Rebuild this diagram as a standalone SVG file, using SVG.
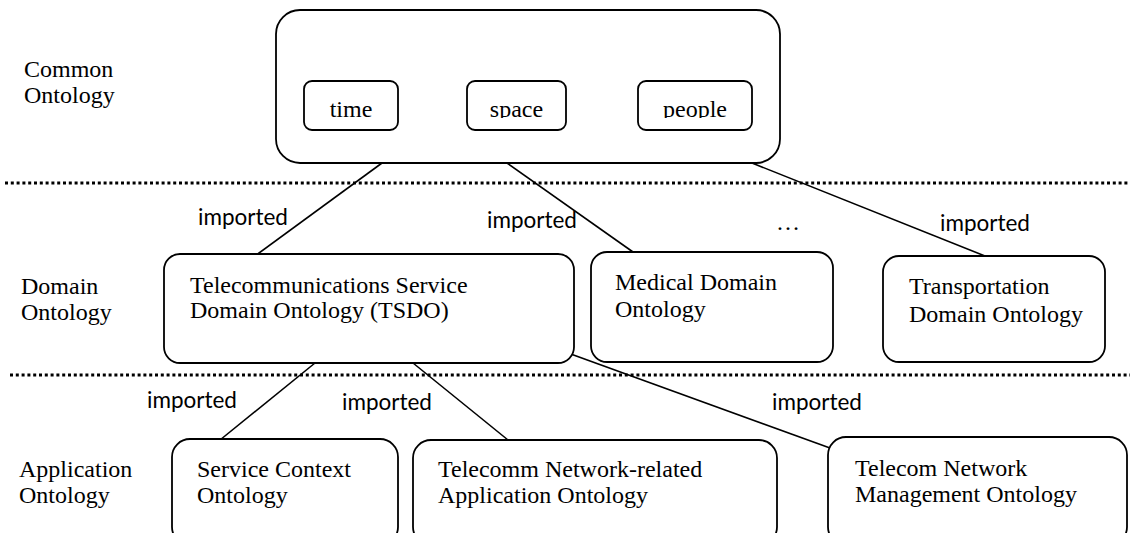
<svg xmlns="http://www.w3.org/2000/svg" width="1130" height="533" viewBox="0 0 1130 533">
<defs>
<style>
.box{fill:#fff;stroke:#000;stroke-width:1.8}
.t{font-family:"Liberation Serif","Times New Roman",serif;font-size:24px;fill:#000}
.lbl{font-family:Lato,"Open Sans",sans-serif;font-size:22.5px;fill:#000}
.sep{stroke:#000;stroke-width:3;stroke-dasharray:3 2.8;fill:none}
.con{stroke:#000;stroke-width:1.6;fill:none}
</style>
<clipPath id="innerclip"><rect x="0" y="0" width="1130" height="118"/></clipPath>
</defs>
<rect width="1130" height="533" fill="#fff"/>

<g id="layer-labels">
<text class="t" x="24" y="77">Common</text>
<text class="t" x="24" y="103">Ontology</text>
<text class="t" x="21" y="294">Domain</text>
<text class="t" x="21" y="320">Ontology</text>
<text class="t" x="19" y="477">Application</text>
<text class="t" x="19" y="503">Ontology</text>
</g>

<g id="separators">
<line class="sep" x1="5" y1="183" x2="1130" y2="183"/>
<line class="sep" x1="10" y1="375" x2="1130" y2="375"/>
</g>

<g id="connectors">
<line class="con" x1="382" y1="163" x2="255" y2="256"/>
<line class="con" x1="507" y1="163" x2="633" y2="252"/>
<line class="con" x1="752" y1="163" x2="985" y2="256"/>
<line class="con" x1="315" y1="363" x2="220" y2="440"/>
<line class="con" x1="413" y1="363" x2="508" y2="440"/>
<line class="con" x1="568" y1="353" x2="830" y2="448"/>
<text class="lbl" x="198" y="225">imported</text>
<text class="lbl" x="487" y="228">imported</text>
<text class="t" x="776" y="230">…</text>
<text class="lbl" x="940" y="231">imported</text>
<text class="lbl" x="147" y="408">imported</text>
<text class="lbl" x="342" y="410">imported</text>
<text class="lbl" x="772" y="410">imported</text>
</g>

<g id="common-ontology">
<rect class="box" x="276" y="10" width="504" height="153" rx="24"/>
</g>
<g id="time">
<rect class="box" x="304" y="81" width="94" height="49" rx="8"/>
<text class="t" x="351" y="117" text-anchor="middle" clip-path="url(#innerclip)">time</text>
</g>
<g id="space">
<rect class="box" x="467" y="81" width="99" height="49" rx="8"/>
<text class="t" x="516.5" y="117" text-anchor="middle" clip-path="url(#innerclip)">space</text>
</g>
<g id="people">
<rect class="box" x="638" y="81" width="114" height="49" rx="8"/>
<text class="t" x="695" y="117" text-anchor="middle" clip-path="url(#innerclip)">people</text>
</g>

<g id="tsdo">
<rect class="box" x="164" y="254" width="410" height="109" rx="16"/>
<text class="t" x="190" y="293">Telecommunications Service</text>
<text class="t" x="190" y="318">Domain Ontology (TSDO)</text>
</g>
<g id="medical">
<rect class="box" x="591" y="252" width="242" height="110" rx="16"/>
<text class="t" x="615" y="290">Medical Domain</text>
<text class="t" x="615" y="317">Ontology</text>
</g>
<g id="transportation">
<rect class="box" x="883" y="256" width="222" height="106" rx="16"/>
<text class="t" x="909" y="294">Transportation</text>
<text class="t" x="909" y="322">Domain Ontology</text>
</g>

<g id="service-context">
<rect class="box" x="172" y="439" width="226" height="106" rx="18"/>
<text class="t" x="197" y="477">Service Context</text>
<text class="t" x="197" y="503">Ontology</text>
</g>
<g id="telecomm-network-app">
<rect class="box" x="413" y="440" width="364" height="105" rx="18"/>
<text class="t" x="438" y="477">Telecomm Network-related</text>
<text class="t" x="438" y="503">Application Ontology</text>
</g>
<g id="telecom-network-mgmt">
<rect class="box" x="828" y="437" width="299" height="108" rx="18"/>
<text class="t" x="855" y="476">Telecom Network</text>
<text class="t" x="855" y="502">Management Ontology</text>
</g>
</svg>
